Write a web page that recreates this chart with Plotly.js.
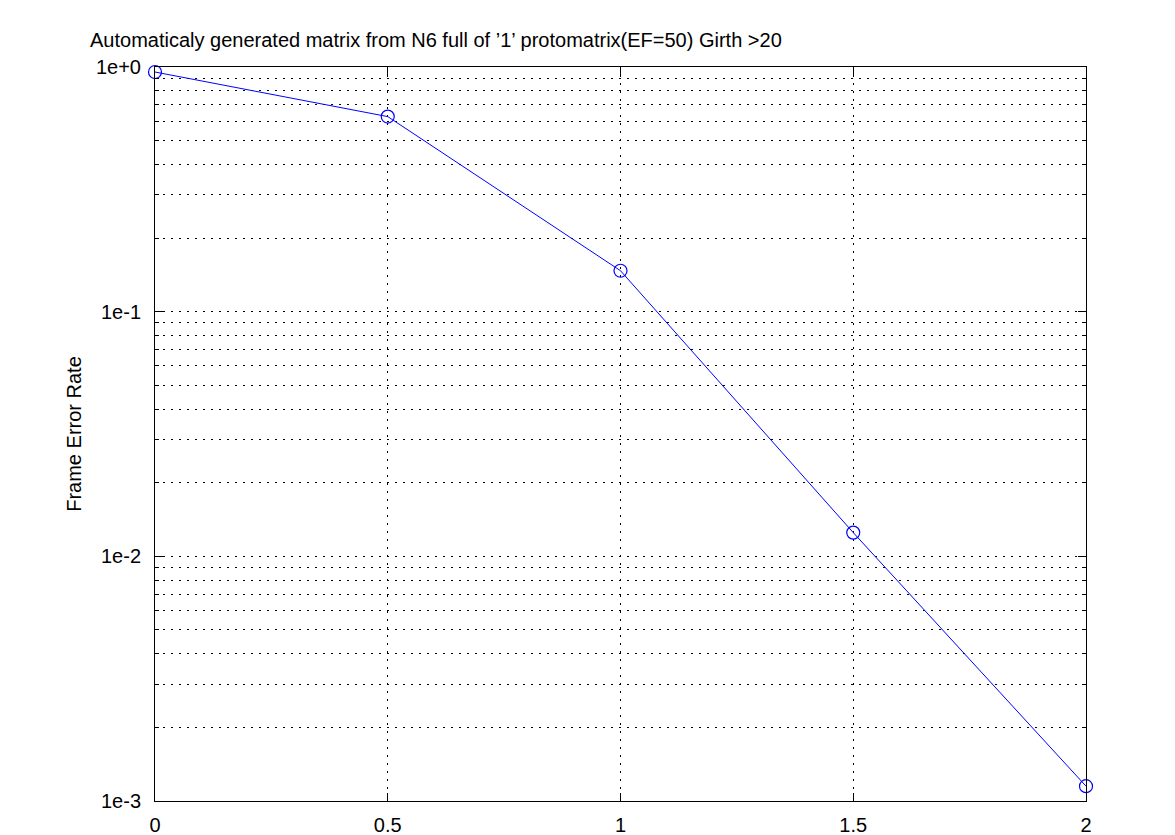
<!DOCTYPE html>
<html>
<head>
<meta charset="utf-8">
<script src="https://cdn.plot.ly/plotly-3.0.1.min.js"></script>
<style>html,body{margin:0;padding:0;background:#fff;}#chart{width:1175px;height:835px;}</style>
</head>
<body>
<div id="chart"></div>
<script>
const snr = [0, 0.5, 1, 1.5, 2];
const fer = [0.954, 0.627, 0.147, 0.0125, 0.00115];
const yTickVals = [0.001, 0.01, 0.1, 1];
const yTickText = ['1e-3', '1e-2', '1e-1', '1e+0'];
const xTickVals = [0, 0.5, 1, 1.5, 2];
const xTickText = ['0', '0.5', '1', '1.5', '2'];
const titleText = "Automaticaly generated matrix from N6 full of \u20191\u2019 protomatrix(EF=50) Girth >20";

const minorVals = [];
for (const d of [0.001, 0.01, 0.1]) { for (let k = 2; k <= 9; k++) minorVals.push(+(d * k).toPrecision(3)); }

const font = {family: 'Liberation Sans, Arial, sans-serif', size: 20, color: '#000'};
const dash = '2px,6px';

Plotly.newPlot('chart', [{
  x: snr, y: fer, type: 'scatter', mode: 'lines+markers', cliponaxis: false,
  line: {color: '#0000ff', width: 1},
  marker: {symbol: 'circle-open', size: 13, color: '#0000ff', line: {width: 1.2, color: '#0000ff'}},
  showlegend: false
}], {
  width: 1175, height: 835,
  margin: {l: 155, r: 89, t: 67, b: 34},
  paper_bgcolor: '#fff', plot_bgcolor: '#fff',
  font: font,
  title: {text: titleText, x: 90/1175, xanchor: 'left', xref: 'container', y: 1 - 40/835, yanchor: 'middle', yref: 'container', font: font},
  xaxis: {
    range: [0, 2], tickmode: 'array', tickvals: xTickVals, ticktext: xTickText,
    showline: true, linecolor: '#000', linewidth: 1, mirror: 'allticks',
    ticks: 'inside', ticklen: 8, tickcolor: '#000',
    showgrid: true, gridcolor: '#000', griddash: dash, gridwidth: 1,
    zeroline: false, tickfont: font, ticklabelstandoff: 6
  },
  yaxis: {
    type: 'log', range: [-3, 0], tickmode: 'array', tickvals: yTickVals, ticktext: yTickText,
    showline: true, linecolor: '#000', linewidth: 1, mirror: 'allticks',
    ticks: 'inside', ticklen: 8, tickcolor: '#000',
    showgrid: true, gridcolor: '#000', griddash: dash, gridwidth: 1,
    zeroline: false, tickfont: font, ticklabelstandoff: 9,
    minor: {tickmode: 'array', tickvals: minorVals, ticks: 'inside', ticklen: 4, tickcolor: '#000',
            showgrid: true, gridcolor: '#000', griddash: dash, gridwidth: 1},
    title: {text: 'Frame Error Rate', font: font, standoff: 8}
  }
}, {displayModeBar: false, staticPlot: true});
</script>
</body>
</html>
